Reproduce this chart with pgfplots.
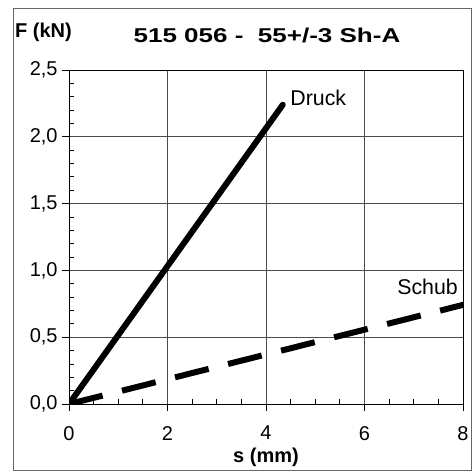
\documentclass[border=0pt]{standalone}
\usepackage{fontspec}
\setmainfont{Liberation Sans}
\usepackage{graphicx}
\usepackage{pgfplots}
\pgfplotsset{compat=1.18}

\begin{document}
\begin{tikzpicture}
\begin{axis}[
    name=ax,
    scale only axis,
    width=295.5pt, height=250.5pt,
    xmin=0, xmax=8,
    ymin=0, ymax=2.5,
    xtick={0,2,4,6,8},
    ytick={0,0.5,1,1.5,2,2.5},
    minor x tick num=3,
    minor y tick num=4,
    xtick pos=left, ytick pos=left,
    tick align=outside,
    major tick length=5pt,
    minor tick length=4pt,
    minor x tick style={yshift=4pt},
    minor y tick style={xshift=4pt},
    grid=major,
    major grid style={black!70, line width=0.6pt},
    axis line style={black, line width=0.7pt},
    tick style={black, line width=0.6pt},
    ticklabel style={font=\fontsize{15}{17}\selectfont},
    /pgf/number format/assume math mode=true,
    x tick label style={yshift=-8pt},
    y tick label style={/pgf/number format/.cd, use comma, fixed, fixed zerofill, precision=1},
    xlabel={\textbf{s (mm)}},
    xlabel style={font=\fontsize{15}{17}\selectfont, at={(axis description cs:0.5,0)}, anchor=center, yshift=-40pt},
    clip=true,
]
% Druck
\addplot[black, line width=4.5pt, line cap=round] coordinates {(0,0) (4.34,2.24)};
% Schub
\addplot[black, line width=4.5pt, dash pattern=on 26pt off 15pt] coordinates {(0,0) (8.3,0.77)};
\end{axis}
\begin{axis}[
    scale only axis, width=295.5pt, height=250.5pt,
    xmin=0, xmax=8, ymin=0, ymax=2.5,
    hide axis, clip=false,
]
\path[use as bounding box] (axis cs:-1.401,-0.472) rectangle (axis cs:8.223,3.024);
\draw[black!60, line width=0.6pt] (axis cs:-1.137,-0.5) rectangle (axis cs:8.18,2.964);
\node[font=\fontsize{15}{17}\selectfont\bfseries] at (axis cs:4.02,2.76) {\scalebox{1.3}[1]{515 056 -\ \ 55+/-3 Sh-A}};
\node[font=\fontsize{15}{17}\selectfont\bfseries, anchor=west] at (axis cs:-1.19,2.78) {F (kN)};
\node[font=\fontsize{16}{18}\selectfont, anchor=west] at (axis cs:4.40,2.29) {Druck};
\node[font=\fontsize{16}{18}\selectfont, anchor=west] at (axis cs:6.57,0.88) {Schub};
\end{axis}
\end{tikzpicture}
\end{document}
